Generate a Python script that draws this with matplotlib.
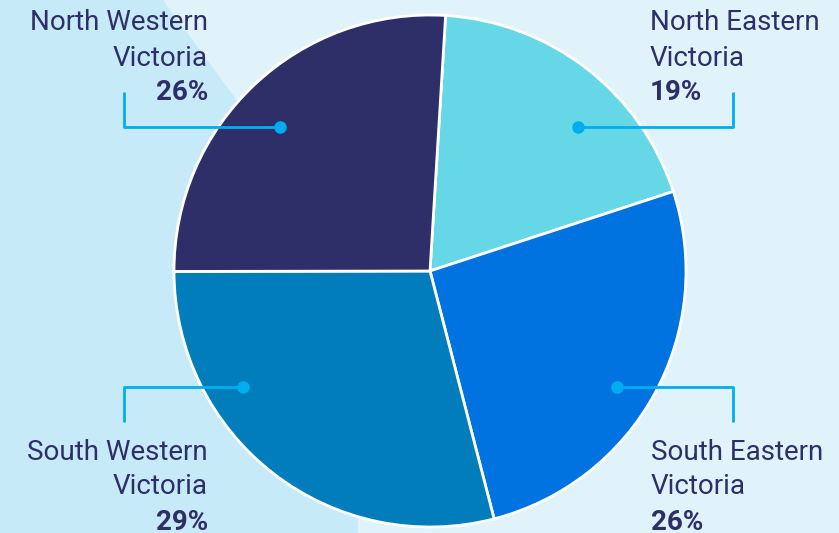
import matplotlib.pyplot as plt
from matplotlib.patches import Polygon

# data
regions = ['North Eastern\nVictoria', 'South Eastern\nVictoria',
           'South Western\nVictoria', 'North Western\nVictoria']
shares = [19, 26, 29, 26]
colors = ['#66D7E6', '#0073E0', '#007DBA', '#2E2F69']

W, H = 839, 533
navy = '#2E2F69'
line_c = '#00AEEF'
plt.rcParams['font.family'] = ['Roboto', 'DejaVu Sans']

fig = plt.figure(figsize=(W / 100, H / 100), dpi=100)
fig.patch.set_facecolor('#E0F3FB')
ax = fig.add_axes([0, 0, 1, 1])
ax.set_facecolor('#E0F3FB')

# darker band on the left (pixel coords, y measured from top)
band = [(0, 0), (163, 0), (358, 265), (358, 533), (0, 533)]
ax.add_patch(Polygon([(x, H - y) for x, y in band], closed=True,
                     facecolor='#C7EAF8', edgecolor='none', zorder=0))

ax.pie(shares, colors=colors, startangle=86.5, counterclock=False,
       center=(430, H - 271), radius=256,
       wedgeprops=dict(edgecolor='white', linewidth=2), frame=True)

# callouts: dot, elbow, first text line centre, alignment
callouts = [
    ((578, 127), (733, 92), (650, 23), 'left'),
    ((617, 387), (733, 422), (651, 452), 'left'),
    ((243, 387), (124, 422), (208, 452), 'right'),
    ((280, 127), (124, 92), (208, 23), 'right'),
]
for name, pct, (dot, elbow, txt, ha) in zip(regions, shares, callouts):
    xs = [dot[0], elbow[0], elbow[0]]
    ys = [H - dot[1], H - dot[1], H - elbow[1]]
    ax.plot(xs, ys, color=line_c, lw=2, zorder=5, solid_capstyle='butt')
    ax.plot(dot[0], H - dot[1], 'o', color=line_c, ms=8, zorder=6)
    l1, l2 = name.split('\n')
    ax.text(txt[0], H - txt[1], l1, ha=ha, va='center', fontsize=20, color=navy)
    ax.text(txt[0], H - txt[1] - 35, l2, ha=ha, va='center', fontsize=20, color=navy)
    ax.text(txt[0], H - txt[1] - 70, f'{pct}%', ha=ha, va='center', fontsize=20,
            fontweight='bold', color=navy)

ax.set_xlim(0, W)
ax.set_ylim(0, H)
ax.set_aspect('equal')
ax.axis('off')

fig.savefig('out.png', dpi=100, facecolor=fig.get_facecolor())
